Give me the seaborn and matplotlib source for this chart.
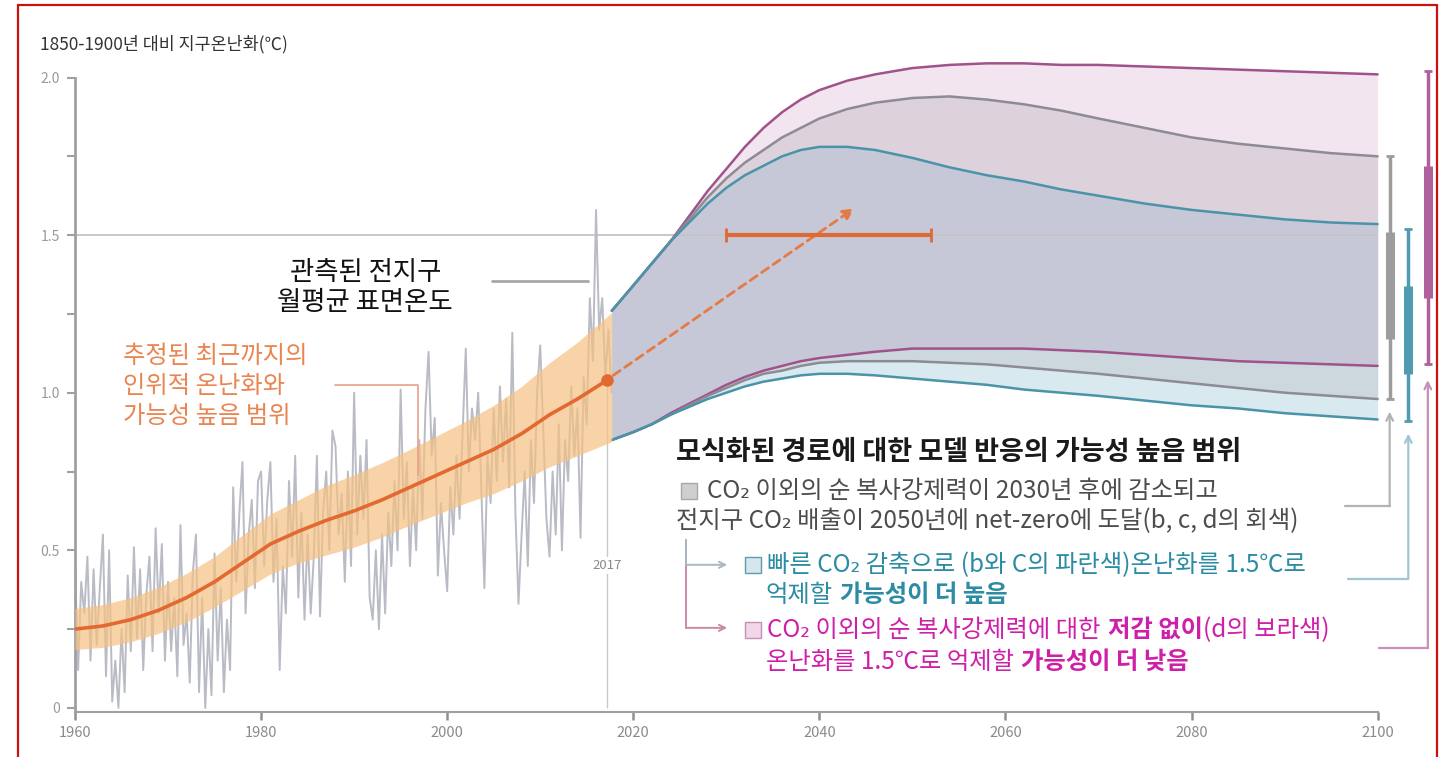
import numpy as np
import pandas as pd
import seaborn as sns
import matplotlib.pyplot as plt
from matplotlib.lines import Line2D

# 관측된 전지구 월평균 표면온도 (그림에서 읽은 값, 1년에 3개)
obs_temp = [
    0.45, 0.12, 0.40,  0.30, 0.48, 0.15,  0.44, 0.20, 0.38,  0.55, 0.10, 0.50,   # 1960-63
    0.02, 0.15, 0.00,  0.25, 0.05, 0.42,  0.18, 0.51, 0.22,  0.44, 0.12, 0.36,   # 1964-67
    0.48, 0.18, 0.57,  0.30, 0.52, 0.15,  0.40, 0.18, 0.35,  0.10, 0.58, 0.20,   # 1968-71
    0.30, 0.08, 0.43,  0.55, 0.05, 0.35,  0.00, 0.25, 0.04,  0.49, 0.15, 0.38,   # 1972-75
    0.05, 0.28, 0.12,  0.70, 0.40, 0.62,  0.78, 0.30, 0.55,  0.66, 0.38, 0.72,   # 1976-79
    0.75, 0.45, 0.66,  0.78, 0.40, 0.60,  0.12, 0.45, 0.30,  0.72, 0.48, 0.80,   # 1980-83
    0.35, 0.62, 0.28,  0.55, 0.30, 0.48,  0.80, 0.29, 0.62,  0.75, 0.50, 0.88,   # 1984-87
    0.83, 0.55, 0.68,  0.40, 0.75, 0.45,  1.00, 0.55, 0.80,  0.60, 0.85, 0.35,   # 1988-91
    0.28, 0.50, 0.25,  0.55, 0.30, 0.62,  0.45, 0.72, 0.50,  1.01, 0.60, 0.78,   # 1992-95
    0.45, 0.70, 0.50,  0.85, 0.60, 0.95,  1.13, 0.80, 0.92,  0.42, 0.65, 0.50,   # 1996-99
    0.37, 0.70, 0.55,  0.80, 0.60, 0.88,  1.14, 0.75, 0.95,  0.85, 1.00, 0.70,   # 2000-03
    0.38, 0.80, 0.65,  0.95, 0.72, 1.02,  0.78, 0.98, 0.70,  1.19, 0.62, 0.33,   # 2004-07
    0.55, 0.75, 0.45,  0.85, 0.65, 1.00,  1.15, 0.88, 0.60,  0.48, 0.75, 0.55,   # 2008-11
    0.90, 0.50, 0.85,  0.72, 1.02, 0.80,  0.95, 0.54, 1.05,  0.90, 1.30, 1.10,   # 2012-15
    1.58, 1.20, 1.30,  1.05, 1.20, 1.00,                                          # 2016-17
]
obs_years = 1960 + np.arange(len(obs_temp)) / 3

# 추정된 인위적 온난화와 가능성 높음 범위
trend_years = [1960, 1963, 1966, 1969, 1972, 1975, 1978, 1981, 1984, 1987,
               1990, 1993, 1996, 1999, 2002, 2005, 2008, 2011, 2014, 2017.7]
trend_mid = [0.25, 0.26, 0.28, 0.31, 0.35, 0.40, 0.46, 0.52, 0.56, 0.595,
             0.625, 0.66, 0.70, 0.74, 0.78, 0.82, 0.87, 0.93, 0.98, 1.05]
trend_hi = [0.315, 0.328, 0.35, 0.383, 0.427, 0.48, 0.548, 0.615, 0.66, 0.705,
            0.74, 0.778, 0.82, 0.865, 0.91, 0.96, 1.02, 1.095, 1.16, 1.255]
trend_lo = [0.185, 0.192, 0.21, 0.237, 0.273, 0.32, 0.372, 0.425, 0.46, 0.485,
            0.51, 0.542, 0.58, 0.615, 0.65, 0.68, 0.72, 0.765, 0.80, 0.845]

# 모식화된 경로 (회색 / 파란색 / 보라색)
proj_years = [2017.7, 2020, 2022, 2024, 2026, 2028, 2030, 2032, 2034, 2036, 2038, 2040, 2043,
              2046, 2050, 2054, 2058, 2062, 2066, 2070, 2075, 2080, 2085, 2090, 2095, 2100]
blue_hi = [1.26, 1.34, 1.41, 1.48, 1.54, 1.60, 1.65, 1.69, 1.72, 1.75, 1.77, 1.78, 1.78,
           1.77, 1.745, 1.715, 1.69, 1.67, 1.645, 1.625, 1.60, 1.58, 1.565, 1.55, 1.54, 1.535]
gray_hi = [1.26, 1.34, 1.41, 1.48, 1.55, 1.62, 1.68, 1.73, 1.77, 1.81, 1.84, 1.87, 1.90,
           1.92, 1.935, 1.94, 1.93, 1.915, 1.895, 1.87, 1.84, 1.81, 1.79, 1.775, 1.76, 1.75]
purple_hi = [1.26, 1.34, 1.41, 1.48, 1.56, 1.64, 1.71, 1.78, 1.84, 1.89, 1.93, 1.96, 1.99,
             2.01, 2.03, 2.04, 2.045, 2.045, 2.04, 2.04, 2.035, 2.03, 2.025, 2.02, 2.015, 2.01]
blue_lo = [0.85, 0.875, 0.90, 0.93, 0.955, 0.98, 1.00, 1.02, 1.035, 1.045, 1.055, 1.06, 1.06,
           1.055, 1.045, 1.035, 1.025, 1.01, 1.0, 0.99, 0.975, 0.96, 0.95, 0.935, 0.925, 0.915]
gray_lo = [0.85, 0.875, 0.90, 0.93, 0.96, 0.99, 1.015, 1.04, 1.06, 1.07, 1.085, 1.095, 1.10,
           1.10, 1.10, 1.095, 1.09, 1.08, 1.07, 1.06, 1.045, 1.03, 1.015, 1.0, 0.99, 0.98]
purple_lo = [0.85, 0.875, 0.90, 0.935, 0.965, 0.995, 1.025, 1.05, 1.07, 1.085, 1.10, 1.11, 1.12,
             1.13, 1.14, 1.14, 1.14, 1.14, 1.135, 1.13, 1.12, 1.11, 1.10, 1.095, 1.09, 1.085]

# 2100년 범위 막대 (회색, 파란색, 보라색)
bar_thin_lo = [0.98, 0.91, 1.09]
bar_thin_hi = [1.75, 1.52, 2.02]
bar_thick_lo = [1.17, 1.06, 1.30]
bar_thick_hi = [1.51, 1.34, 1.72]

# 1.5도 도달 시기 범위, 2017 값
cross_start, cross_end = 2030, 2052
now_year, now_val = 2017.2, 1.04
arrow_year, arrow_val = 2044, 1.59

C_GRAY_L, C_BLUE_L, C_PURP_L = '#8d8b94', '#4b93a8', '#a0538b'
C_ORANGE = '#e2692f'
TXT_BLUE, TXT_PURP = '#2b8ca3', '#cf1fa8'

sns.set_theme(style="white")
FONTS = ['Noto Sans CJK KR', 'DejaVu Sans']
plt.rcParams['font.family'] = FONTS

fig = plt.figure(figsize=(14.39, 7.57), dpi=100)
ax = fig.add_axes([75 / 1439, 1 - 712 / 757, 1 - 75 / 1439, (712 - 46) / 757])
ax.set_xlim(1960, 2106.6)
ax.set_ylim(-0.013, 2.10)

# 경로 범위 채우기
py = np.array(proj_years)
bh, gh, ph = np.array(blue_hi), np.array(gray_hi), np.array(purple_hi)
bl, gl, pl = np.array(blue_lo), np.array(gray_lo), np.array(purple_lo)
ax.fill_between(py, pl, ph, color='#f2e5ef', lw=0, zorder=1)
ax.fill_between(py, gl, gh, color='#ddd1dc', lw=0, zorder=1.1)
ax.fill_between(py, bl, bh, color='#d8e9ef', lw=0, zorder=1.2)
ax.fill_between(py, np.maximum(gl, bl), np.minimum(gh, bh), color='#ccd7de', lw=0, zorder=1.3)
ax.fill_between(py, np.maximum(pl, gl), np.minimum(bh, gh), color='#c6c8d7', lw=0, zorder=1.4)

ax.hlines(1.5, 1960, 2100, color='#c4c4c4', lw=1.3, zorder=1.6)

for lo, hi, c in [(purple_lo, purple_hi, C_PURP_L), (gray_lo, gray_hi, C_GRAY_L), (blue_lo, blue_hi, C_BLUE_L)]:
    sns.lineplot(x=proj_years, y=hi, color=c, lw=1.8, ax=ax, zorder=2)
    sns.lineplot(x=proj_years, y=lo, color=c, lw=1.8, ax=ax, zorder=2)

# 관측값
obs = pd.DataFrame({'year': obs_years, 'temp': obs_temp})
sns.lineplot(data=obs, x='year', y='temp', color='#b9bbc5', lw=1.4, ax=ax, zorder=2.5)
ax.vlines(now_year, 0, now_val, color='#c8c8c8', lw=1.0, zorder=2.4)

# 인위적 온난화
ax.fill_between(trend_years, trend_lo, trend_hi, color='#f6c182', alpha=0.7, lw=0, zorder=3)
trend = pd.DataFrame({'year': trend_years[:-1] + [now_year], 'val': trend_mid[:-1] + [now_val]})
sns.lineplot(data=trend, x='year', y='val', color=C_ORANGE, lw=2.6, ax=ax, zorder=4)
ax.plot([now_year], [now_val], 'o', color=C_ORANGE, ms=8, zorder=5)
ax.annotate('', xy=(arrow_year, arrow_val), xytext=(now_year + 0.4, now_val + 0.01),
            arrowprops=dict(arrowstyle='-|>', color='#e57a45', lw=2, linestyle=(0, (3, 2)),
                            mutation_scale=16), zorder=5)
ax.errorbar((cross_start + cross_end) / 2, 1.5, xerr=(cross_end - cross_start) / 2, fmt='none',
            ecolor='#dd6a35', elinewidth=3, capsize=5, capthick=2, zorder=5)

# 2100년 막대
bar_x = [2101.3, 2103.3, 2105.4]
bar_col = ['#9c9c9c', '#4f9cb2', '#b0609a']
for x, lo, hi, tlo, thi, c in zip(bar_x, bar_thin_lo, bar_thin_hi, bar_thick_lo, bar_thick_hi, bar_col):
    ax.errorbar(x, (lo + hi) / 2, yerr=(hi - lo) / 2, fmt='none', ecolor=c, elinewidth=2.5,
                capsize=3, capthick=2, zorder=5, clip_on=False)
    ax.vlines(x, tlo, thi, color=c, lw=6.5, zorder=6, clip_on=False)

# 범례 연결선
conn = [(2096.5, 0.64, 2101.3, 0.94, '#b3b3b3'),
        (2096.8, 0.41, 2103.3, 0.87, '#9fc6d2'),
        (2100.1, 0.19, 2105.4, 1.04, '#c98fb6')]
for x0, y0, x1, y1, c in conn:
    ax.plot([x0, x1], [y0, y0], color=c, lw=1.6, zorder=4, clip_on=False)
    ax.annotate('', xy=(x1, y1), xytext=(x1, y0),
                arrowprops=dict(arrowstyle='->', color=c, lw=1.6, mutation_scale=12,
                                shrinkA=0, shrinkB=0), annotation_clip=False)

ax.plot([2025.66, 2025.66], [0.533, 0.254], color='#c98aa8', lw=1.4, zorder=4)
ax.plot([2025.66, 2025.66], [0.533, 0.454], color='#a9b7c2', lw=1.4, zorder=4)
for yy, c in [(0.454, '#a9b7c2'), (0.254, '#c98aa8')]:
    ax.annotate('', xy=(2030.1, yy), xytext=(2025.66, yy),
                arrowprops=dict(arrowstyle='->', color=c, lw=1.4, mutation_scale=11,
                                shrinkA=0, shrinkB=0))

# 주석 선
ax.plot([2004.8, 2015.1], [1.355, 1.355], color='#a8a8a8', lw=2, zorder=4)
ax.plot([1987.9, 1996.85, 1996.85], [1.025, 1.025, 0.74], color='#e9a08c', lw=1.2, zorder=4)


def rich(x, y, parts, size):
    # 여러 스타일의 글자를 이어서 그림: (글자, 색, 굵기)
    t = None
    for s, c, w in parts:
        gap = 0
        if s.startswith(' '):
            gap = size * 0.3
            s = s.lstrip()
        if t is None:
            t = ax.text(x, y, s, color=c, fontweight=w, fontsize=size, va='center', ha='left',
                        family=FONTS, zorder=7)
        else:
            t = ax.annotate(s, xy=(1, 0.5), xycoords=t, xytext=(gap, 0), textcoords='offset points',
                            va='center', ha='left', color=c, fontweight=w, fontsize=size,
                            family=FONTS, zorder=7)
    return t


fig.text(40 / 1439, 1 - 44 / 757, '1850-1900년 대비 지구온난화(℃)', fontsize=12.5,
         color='#333333', ha='left', va='center')

ax.text(1991.2, 1.382, '관측된 전지구', fontsize=19, color='#111111', ha='center', va='center')
ax.text(1991.2, 1.287, '월평균 표면온도', fontsize=19, color='#111111', ha='center', va='center')

OR_T = '#ea8450'
rich(1965.2, 1.116, [('추정된 최근까지의', OR_T, 'normal')], 17.5)
rich(1965.2, 1.021, [('인위적 온난화와', OR_T, 'normal')], 17.5)
rich(1965.2, 0.926, [('가능성 높음 범위', OR_T, 'normal')], 17.5)

rich(2024.58, 0.811, [('모식화된 경로에 대한 모델 반응의 가능성 높음 범위', '#1a1a1a', 'bold')], 19.5)

ts = 17.5
ax.plot([2025.97], [0.688], 's', ms=11, mfc='#cfcfcf', mec='#a8a8a8', zorder=6)
rich(2027.9, 0.688, [('CO₂ 이외의 순 복사강제력이 2030년 후에 감소되고', '#4d4d4d', 'normal')], ts)
rich(2024.58, 0.593, [('전지구 CO₂ 배출이 2050년에 net-zero에 도달(b, c, d의 회색)', '#4d4d4d', 'normal')], ts)

ax.plot([2032.85], [0.453], 's', ms=11, mfc='#d6e6ec', mec='#5b9db2', zorder=6)
rich(2034.4, 0.453, [('빠른 CO₂ 감축으로 (b와 C의 파란색)온난화를 1.5℃로', TXT_BLUE, 'normal')], ts)
rich(2034.25, 0.358, [('억제할', TXT_BLUE, 'normal'), (' 가능성이 더 높음', TXT_BLUE, 'bold')], ts)

ax.plot([2032.85], [0.247], 's', ms=11, mfc='#f0d8e8', mec='#c690b6', zorder=6)
rich(2034.4, 0.247, [('CO₂ 이외의 순 복사강제력에 대한', TXT_PURP, 'normal'),
                     (' 저감 없이', TXT_PURP, 'bold'), ('(d의 보라색)', TXT_PURP, 'normal')], ts)
rich(2034.25, 0.146, [('온난화를 1.5℃로 억제할', TXT_PURP, 'normal'),
                      (' 가능성이 더 낮음', TXT_PURP, 'bold')], ts)

ax.text(now_year, 0.453, '2017', fontsize=9.5, color='#8a8a8a', ha='center', va='center',
        bbox=dict(fc='white', ec='none', pad=1.5), zorder=6)

# 축
sns.despine(ax=ax)
ax.spines['left'].set_bounds(-0.013, 2.0)
ax.spines['bottom'].set_bounds(1960, 2100)
for sp in ['left', 'bottom']:
    ax.spines[sp].set_color('#a0a0a0')
ax.spines['left'].set_linewidth(2)
ax.spines['bottom'].set_linewidth(1.5)
ax.set_yticks([0, 0.5, 1.0, 1.5, 2.0], ['0', '0.5', '1.0', '1.5', '2.0'])
ax.set_yticks([0.25, 0.75, 1.25, 1.75], minor=True)
ax.set_xticks(range(1960, 2101, 20), [str(v) for v in range(1960, 2101, 20)])
ax.tick_params(axis='y', which='both', left=True, direction='out', length=6, width=1.5,
               color='#a0a0a0', labelsize=10, labelcolor='#9a9a9a', pad=5)
ax.tick_params(axis='x', bottom=True, direction='out', length=6, width=1.8,
               color='#909090', labelsize=10.5, labelcolor='#8a8a8a', pad=4)
ax.set_xlabel('')
ax.set_ylabel('')
ax.grid(False)

# 빨간 테두리
for xs, ys in [([18, 18], [0, 752]), ([18, 1437], [752, 752]), ([1437, 1437], [752, 0])]:
    fig.add_artist(Line2D([v / 1439 for v in xs], [v / 757 for v in ys], color='#cc1010', lw=1.6))

fig.savefig('out.png', dpi=100)
